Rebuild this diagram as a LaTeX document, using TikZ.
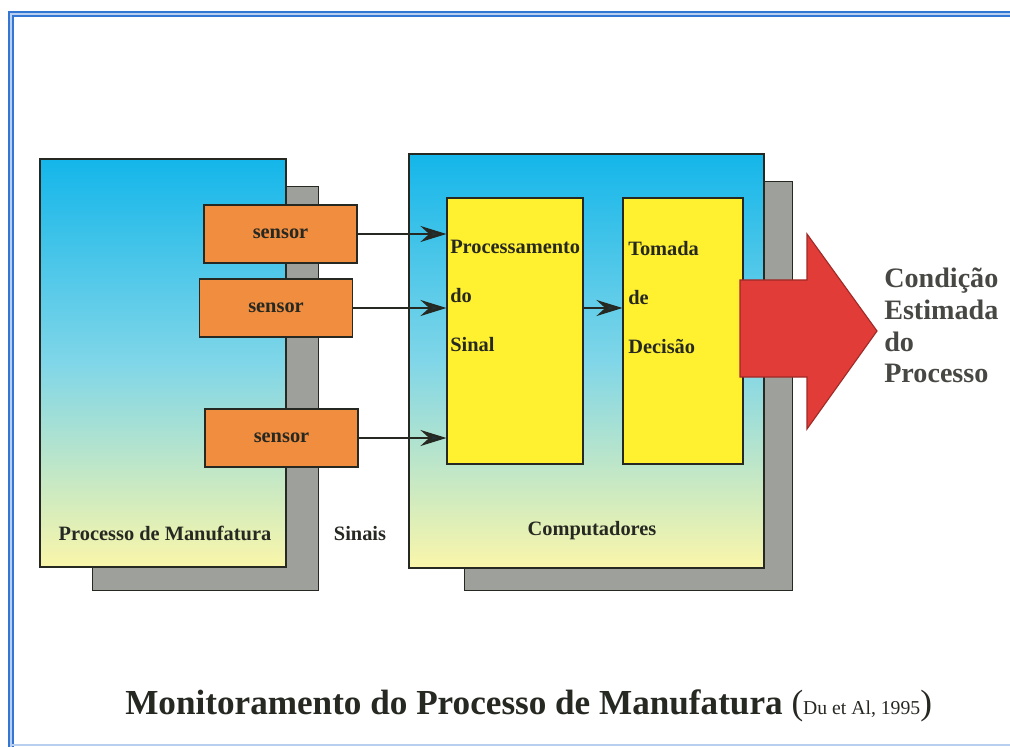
\documentclass[tikz,border=0pt]{standalone}
\usepackage{fontspec}
\setmainfont{Liberation Serif}
\usetikzlibrary{arrows.meta,positioning}

\definecolor{frameblue}{RGB}{52,118,212}
\definecolor{skyblue}{RGB}{20,182,234}
\definecolor{midblue}{RGB}{128,214,232}
\definecolor{paleyellow}{RGB}{250,246,170}
\definecolor{shadowgray}{RGB}{158,160,156}
\definecolor{sensororange}{RGB}{241,141,62}
\definecolor{boxyellow}{RGB}{255,240,48}
\definecolor{outred}{RGB}{226,60,56}
\definecolor{inkdark}{RGB}{38,40,34}
\definecolor{tipdark}{RGB}{34,52,58}

\def\pxl{0.025cm}

\tikzset{
	frame/.style={draw=frameblue, double=frameblue!35, double distance=0.8pt, line width=1.5pt},
	shadowbox/.style={fill=shadowgray, draw=inkdark, line width=0.7pt},
	panel/.style={draw=inkdark, line width=0.8pt, top color=skyblue, bottom color=paleyellow, middle color=midblue, inner sep=0},
	sensorbox/.style={draw=inkdark, line width=0.8pt, fill=sensororange, inner sep=0,
		minimum height=58*\pxl, minimum width=153*\pxl, font=\fontsize{14.5}{17}\selectfont\bfseries, text=inkdark},
	stagebox/.style={draw=inkdark, line width=0.8pt, fill=boxyellow, inner sep=0, minimum height=266*\pxl},
	boxtext/.style={anchor=north west, inner sep=0, align=left, text=inkdark, font=\fontsize{14.5}{34.8}\selectfont\bfseries},
	lbl/.style={anchor=base, inner sep=0, text=inkdark, font=\fontsize{14.5}{17}\selectfont\bfseries},
	sig/.style={draw=inkdark, line width=1.8pt, -{Stealth[length=6.5mm, width=4mm, inset=2.2mm, fill=tipdark]}},
}

\begin{document}
\begin{tikzpicture}[x=\pxl, y=-\pxl]
	\useasboundingbox (0,0) rectangle (1010,747);
	\fill[white] (0,0) rectangle (1010,747);
	
	\draw[frame] (1014,14) -- (11,14) -- (11,747);
	\draw[frameblue!35, line width=1pt] (11,745) -- (1010,745);
	
	\draw[shadowbox] (92,186) rectangle (318,590);
	\draw[shadowbox] (464,181) rectangle (792,590);
	
	\node[panel, minimum width=246*\pxl, minimum height=408*\pxl] (mfg) at (163,363) {};
	\node[panel, minimum width=355*\pxl, minimum height=414*\pxl] (comp) at (586.5,361) {};
	
	\node[stagebox, minimum width=136*\pxl] (proc) at (515,331) {};
	\node[stagebox, minimum width=120*\pxl] (decide) at (683,331) {};
	\node[boxtext] (proctext) at (450,239.5) {Processamento\\do\\Sinal};
	\node[boxtext] (decidetext) at (628,241) {Tomada\\de\\Decisão};
	
	\node[sensorbox] (s1) at (280.5,234) {sensor};
	\node[sensorbox] (s2) at (276,308) {sensor};
	\node[sensorbox] (s3) at (281.5,438) {sensor};
	
	\draw[sig] (s1.east) -- (s1.east -| proc.west);
	\draw[sig] (s2.east) -- (s2.east -| proc.west);
	\draw[sig] (s3.east) -- (s3.east -| proc.west);
	\draw[sig] (proc.east |- s2.east) -- (decide.west |- s2.east);
	
	\filldraw[fill=outred, draw=outred!70!black, line width=0.8pt]
		(740,280) -- (807,280) -- (807,234) -- (877,331) -- (807,429) -- (807,377) -- (740,377) -- cycle;
	
	\node[anchor=north west, inner sep=0, align=left, text=inkdark!85, font=\fontsize{20}{22.5}\selectfont\bfseries] (estimate) at (884,268) {Condição\\Estimada\\do\\Processo};
	
	\node[lbl] (mfglabel) at (165,540) {Processo de Manufatura};
	\node[lbl] (siglabel) at (360,540) {Sinais};
	\node[lbl] (complabel) at (592,535) {Computadores};
	
	\node[anchor=base west, inner sep=0, text=inkdark] (title) at (125,714)
		{\fontsize{25}{30}\selectfont\bfseries Monitoramento do Processo de Manufatura \mdseries(\fontsize{14}{17}\selectfont Du et Al, 1995\fontsize{25}{30}\selectfont)};
\end{tikzpicture}
\end{document}
